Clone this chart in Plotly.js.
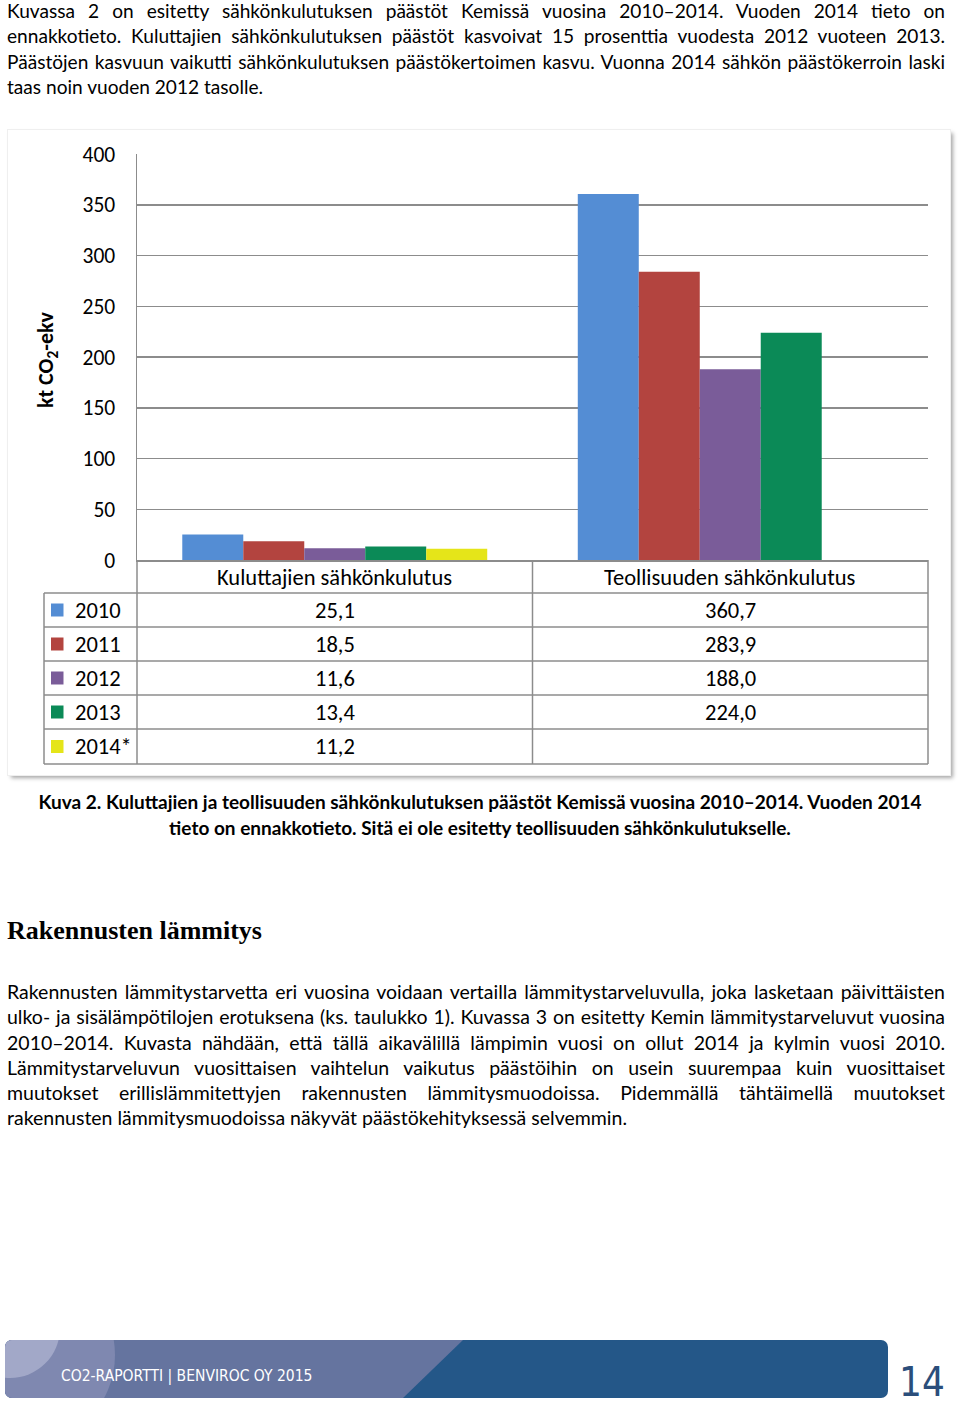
<!DOCTYPE html>
<html lang="fi">
<head>
<meta charset="utf-8">
<script src="https://cdn.plot.ly/plotly-3.0.1.min.js"></script>
<style>
  html, body { margin: 0; padding: 0; background: #fff; }
  body {
    width: 960px; height: 1403px; position: relative; overflow: hidden;
    font-family: Lato, 'Liberation Sans', sans-serif; color: #000;
  }
  /* leipäteksti: kapea fontti puuttuu, joten skaalataan vaakasuunnassa */
  .para { position: absolute; left: 7px; width: 938px; font-size: 19.5px; line-height: 25.3px; transform-origin: 0 0; }
  .para .ln { text-align: justify; text-align-last: justify; white-space: nowrap; }
  .para .ln.last { text-align-last: left; }

  #chartBox {
    position: absolute; left: 8px; top: 130px; width: 942px; height: 645px; background: #fff;
    box-shadow: 0 0 0 1px #efefef, 3px 3px 4px rgba(0,0,0,0.35);
  }
  #chart { width: 942px; height: 645px; }

  .caption {
    position: absolute; left: 0; top: 789px; width: 960px; text-align: center;
    font-weight: 700; font-size: 19px; line-height: 26px;
  }
  h2 {
    position: absolute; left: 7px; top: 916px; margin: 0;
    font-family: 'Liberation Serif', serif; font-weight: 700; font-size: 26px; line-height: 30px;
  }

  #banner {
    position: absolute; left: 5px; top: 1340px; width: 883px; height: 58px;
    border-radius: 7px; overflow: hidden; background: #245788;
  }
  #banner .mid { position: absolute; inset: 0; background: #65749f; clip-path: polygon(0 0, 458px 0, 398px 100%, 0 100%); }
  #banner .c1 { position: absolute; left: -70px; top: -75px; width: 180px; height: 180px; border-radius: 50%; background: #7f88b0; }
  #banner .c2 { position: absolute; left: -45px; top: -62px; width: 100px; height: 100px; border-radius: 50%; background: #a2a8c8; }
  #banner .txt { position: absolute; left: 56px; top: 27px; color: #fff; font-size: 15.5px; font-family: 'DejaVu Sans Condensed', sans-serif; }
  .pageno { position: absolute; left: 899px; top: 1362px; font-size: 40px; line-height: 40px; color: #2b4e7b; font-family: 'DejaVu Sans Condensed', sans-serif; }
</style>
</head>
<body>

<div class="para" data-last="256" style="top:-2px">
  <div class="ln">Kuvassa 2 on esitetty sähkönkulutuksen päästöt Kemissä vuosina 2010–2014. Vuoden 2014 tieto on</div>
  <div class="ln">ennakkotieto. Kuluttajien sähkönkulutuksen päästöt kasvoivat 15 prosenttia vuodesta 2012 vuoteen 2013.</div>
  <div class="ln">Päästöjen kasvuun vaikutti sähkönkulutuksen päästökertoimen kasvu. Vuonna 2014 sähkön päästökerroin laski</div>
  <div class="ln last"><span>taas noin vuoden 2012 tasolle.</span></div>
</div>

<div id="chartBox"><div id="chart"></div></div>

<div class="caption">Kuva 2. Kuluttajien ja teollisuuden sähkönkulutuksen päästöt Kemissä vuosina 2010–2014. Vuoden 2014<br>tieto on ennakkotieto. Sitä ei ole esitetty teollisuuden sähkönkulutukselle.</div>

<h2>Rakennusten lämmitys</h2>

<div class="para" data-last="620" style="top:979px">
  <div class="ln">Rakennusten lämmitystarvetta eri vuosina voidaan vertailla lämmitystarveluvulla, joka lasketaan päivittäisten</div>
  <div class="ln">ulko- ja sisälämpötilojen erotuksena (ks. taulukko 1). Kuvassa 3 on esitetty Kemin lämmitystarveluvut vuosina</div>
  <div class="ln">2010–2014. Kuvasta nähdään, että tällä aikavälillä lämpimin vuosi on ollut 2014 ja kylmin vuosi 2010.</div>
  <div class="ln">Lämmitystarveluvun vuosittaisen vaihtelun vaikutus päästöihin on usein suurempaa kuin vuosittaiset</div>
  <div class="ln">muutokset erillislämmitettyjen rakennusten lämmitysmuodoissa. Pidemmällä tähtäimellä muutokset</div>
  <div class="ln last"><span>rakennusten lämmitysmuodoissa näkyvät päästökehityksessä selvemmin.</span></div>
</div>

<div id="banner">
  <div class="mid"></div>
  <div class="c1"></div>
  <div class="c2"></div>
  <div class="txt">CO2-RAPORTTI | BENVIROC OY 2015</div>
</div>
<div class="pageno">14</div>

<script>
// ── Kappaleiden leveys ────────────────────────────────
document.querySelectorAll('.para').forEach(p => {
  const w = p.querySelector('.last span').getBoundingClientRect().width;
  const s = (+p.dataset.last) / w;
  p.style.width = (938 / s) + 'px';
  p.style.transform = `scaleX(${s})`;
});

// ── Data ──────────────────────────────────────────────
const categories = ['Kuluttajien sähkönkulutus', 'Teollisuuden sähkönkulutus'];
const years      = ['2010', '2011', '2012', '2013', '2014*'];
const kuluttajat = [25.1, 18.5, 11.6, 13.4, 11.2];
const teollisuus = [360.7, 283.9, 188.0, 224.0, null];   // 2014 ei esitetty
const colors     = ['#548dd4', '#b3443f', '#7a5c99', '#0b8a57', '#e5e519'];

const FONT = 'Carlito, Calibri, Lato, sans-serif';
const GRID = '#8c8c8c';

// page pixels -> paper coords (plot area 137..928 x 154..560)
const PL = 137, PW = 791, PB = 560, PH = 406;
const px = p => (p - PL) / PW;
const py = p => (PB - p) / PH;

const fmt = v => v.toFixed(1).replace('.', ',');

// ── Bars ──────────────────────────────────────────────
const traces = years.map((yr, i) => ({
  type: 'bar', name: yr, x: categories, y: [kuluttajat[i], teollisuus[i]],
  marker: { color: colors[i], line: { width: 0 } }, hoverinfo: 'skip',
}));

// ── Data table under the axis ─────────────────────────
const rowEdges = [593, 627, 661, 695, 729, 764];
const shapes = [];
const line = { color: GRID, width: 1.5 };

rowEdges.forEach(e => shapes.push({ type: 'line', xref: 'paper', yref: 'paper',
  x0: px(44), x1: 1, y0: py(e), y1: py(e), line }));
shapes.push({ type: 'line', xref: 'paper', yref: 'paper', x0: px(44), x1: px(44), y0: py(593), y1: py(764), line });
shapes.push({ type: 'line', xref: 'paper', yref: 'paper', x0: 0, x1: 0, y0: 0, y1: py(764), line });
shapes.push({ type: 'line', xref: 'x', yref: 'paper', x0: 0.5, x1: 0.5, y0: 0, y1: py(764), line });
shapes.push({ type: 'line', xref: 'paper', yref: 'paper', x0: 1, x1: 1, y0: 0, y1: py(764), line });

const annotations = [];
const tfont = { family: FONT, size: 22.5, color: '#000' };

categories.forEach(c => annotations.push({ xref: 'x', yref: 'paper', x: c, y: py(577),
  text: c, showarrow: false, font: tfont, yanchor: 'middle' }));

years.forEach((yr, i) => {
  const mid = (rowEdges[i] + rowEdges[i + 1]) / 2;
  shapes.push({ type: 'rect', xref: 'paper', yref: 'paper', x0: px(51), x1: px(63.5),
    y0: py(mid + 6.5), y1: py(mid - 6.5), fillcolor: colors[i], line: { width: 0 } });
  annotations.push({ xref: 'paper', yref: 'paper', x: px(73), y: py(mid), xanchor: 'left',
    yanchor: 'middle', text: yr, showarrow: false, font: tfont });
  [kuluttajat[i], teollisuus[i]].forEach((v, j) => {
    if (v == null) return;
    annotations.push({ xref: 'x', yref: 'paper', x: categories[j], y: py(mid), yanchor: 'middle',
      text: fmt(v), showarrow: false, font: tfont });
  });
});

// y-akselin otsikko
annotations.push({ xref: 'paper', yref: 'paper', x: px(47), y: py(360), xanchor: 'center', yanchor: 'middle',
  textangle: -90, text: '<b>kt CO<sub>2</sub>-ekv</b>', showarrow: false, font: { family: FONT, size: 22, color: '#000' } });

// ── Layout ────────────────────────────────────────────
const layout = {
  width: 942, height: 645,
  margin: { l: 129, r: 22, t: 24, b: 215 },
  paper_bgcolor: '#fff', plot_bgcolor: '#fff',
  barmode: 'group', bargap: 0.229, bargroupgap: 0,
  showlegend: false,
  font: { family: FONT, size: 20, color: '#000' },
  xaxis: { type: 'category', showticklabels: false, ticks: '', showgrid: false,
    showline: true, linecolor: GRID, linewidth: 1.5, range: [-0.5, 1.5] },
  yaxis: { range: [0, 400], dtick: 50, showgrid: true, gridcolor: GRID, gridwidth: 1.5,
    zeroline: false, showline: true, linecolor: GRID, linewidth: 1.5,
    ticks: 'outside', ticklen: 16, tickcolor: 'rgba(0,0,0,0)',
    tickfont: { family: FONT, size: 21.5, color: '#000' } },
  shapes, annotations,
};

Plotly.newPlot('chart', traces, layout, { staticPlot: true, displayModeBar: false });
</script>
</body>
</html>
